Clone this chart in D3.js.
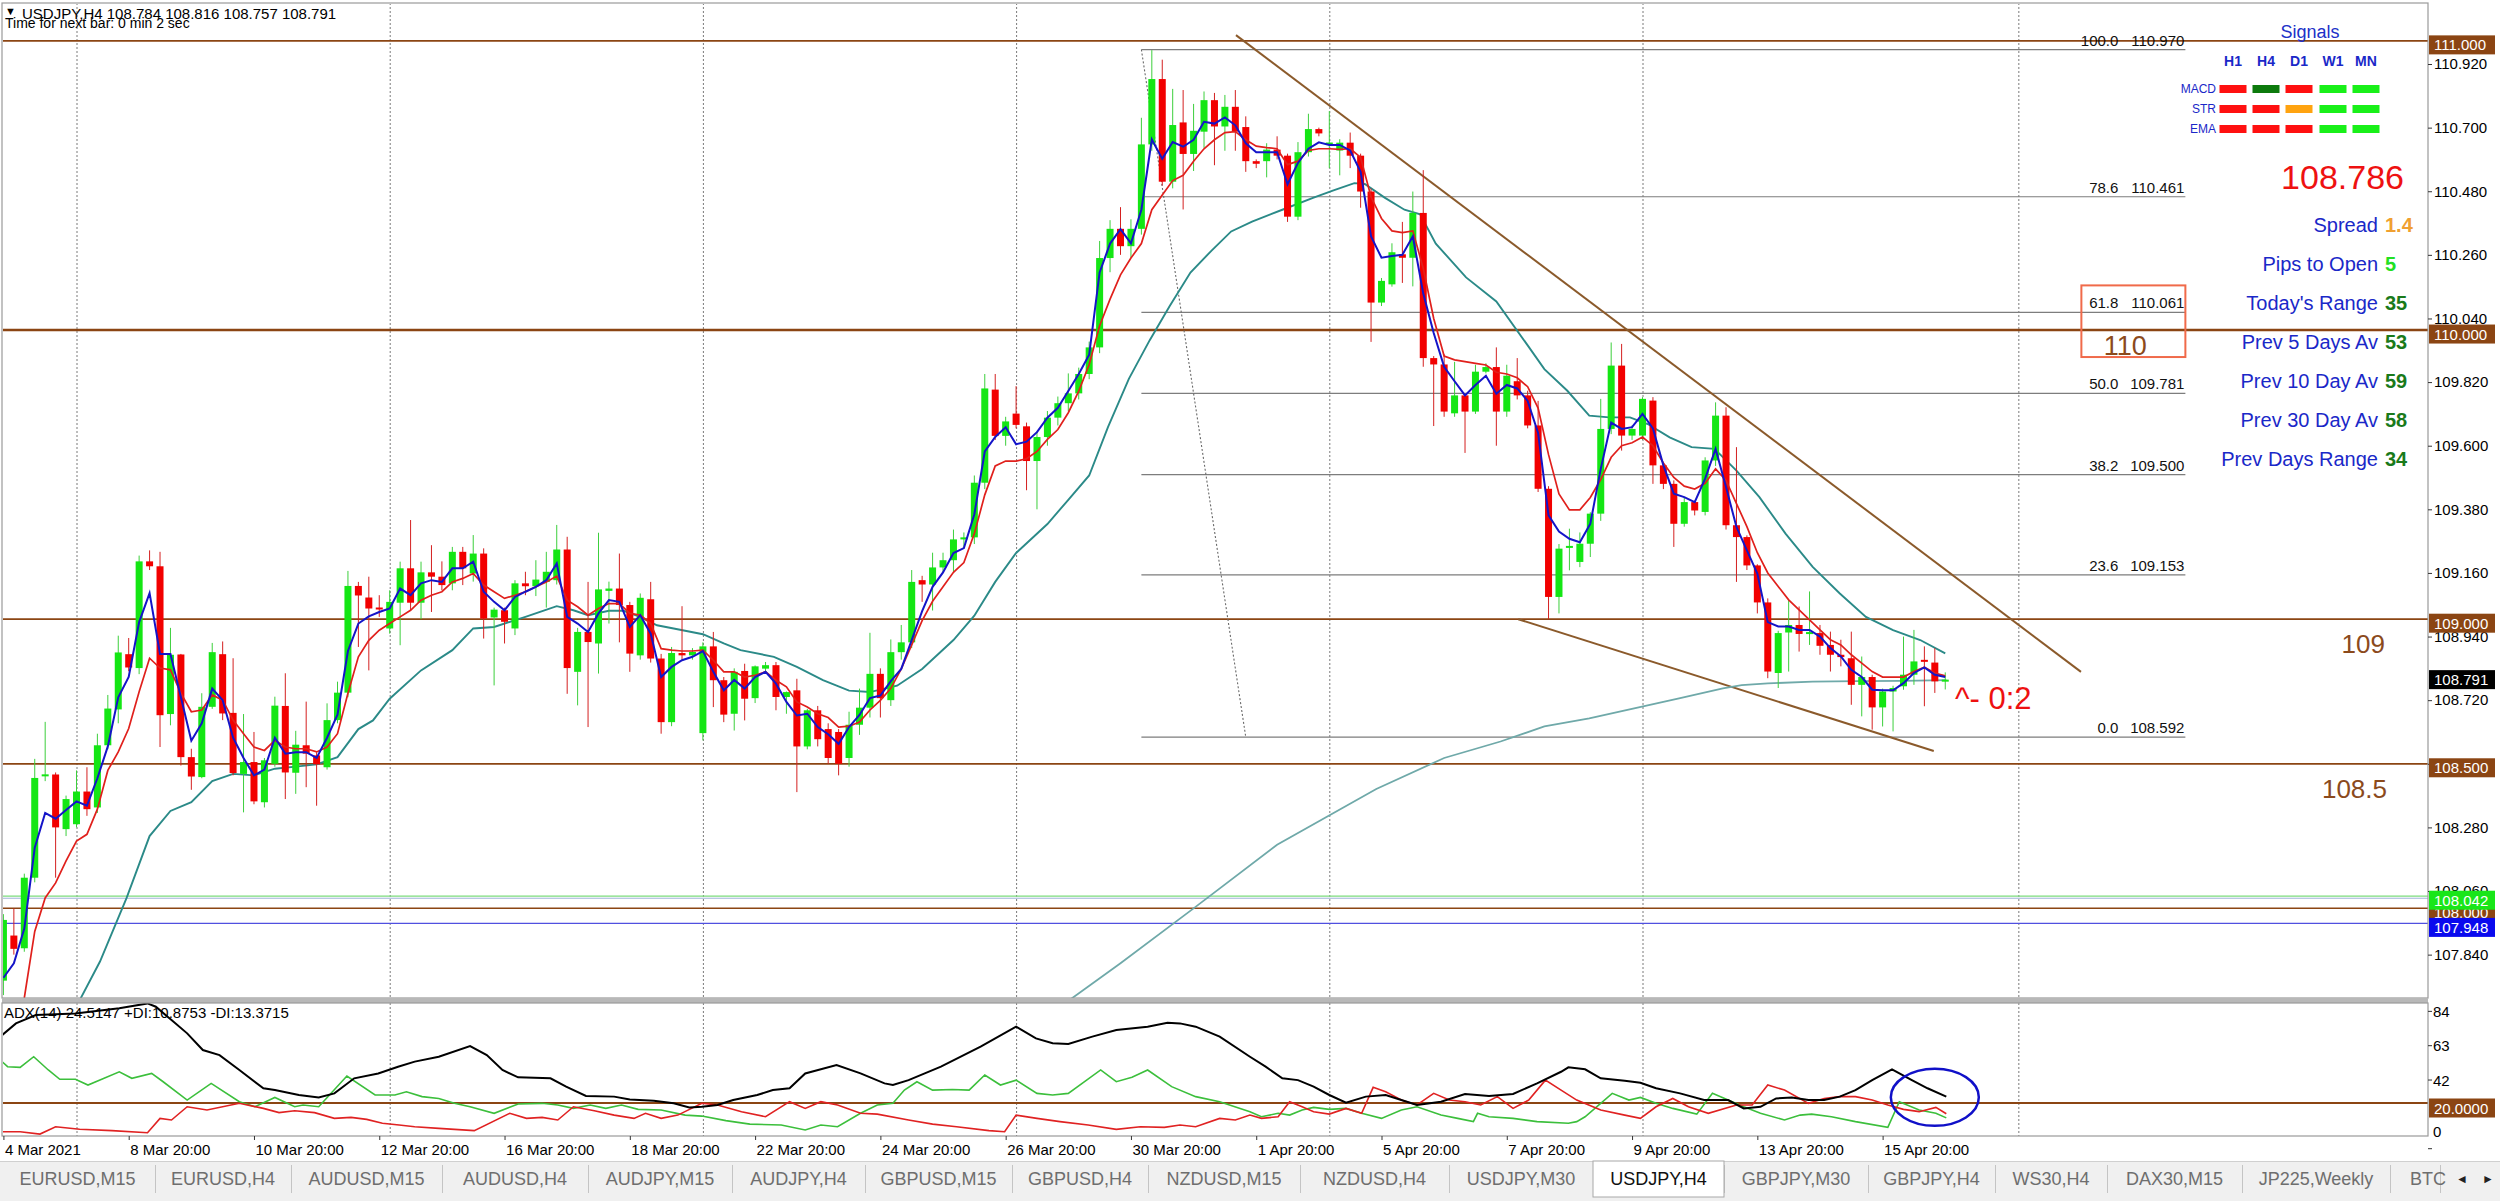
<!DOCTYPE html>
<html><head><meta charset="utf-8">
<script src="https://cdn.jsdelivr.net/npm/d3@7/dist/d3.min.js"></script>
<style>html,body{margin:0;padding:0;background:#fff;}svg{display:block;}</style>
</head><body>
<svg id="c" width="2500" height="1201"></svg>
<script>
// ---------------- DATA ----------------
const firstBar = -7; // bar index of first candle (bar 0 = 8 Mar 00:00, H4)
const opens = [
107.75,107.906,107.862,108.106,108.455,108.463,108.274,108.291,108.404,108.349,
108.564,108.688,108.879,108.831,109.200,109.183,108.672,108.878,108.523,108.454,
108.697,108.879,108.676,108.465,108.506,108.367,108.50,108.700,108.469,108.564,
108.529,108.488,108.651,108.746,109.115,109.075,109.037,108.968,109.057,109.176,
109.057,109.162,109.147,109.124,109.233,109.158,109.227,109.006,109.031,108.968,
109.124,109.114,109.129,109.135,109.241,108.818,108.956,108.916,109.098,109.106,
109.049,108.875,109.069,108.864,108.644,108.883,108.875,108.606,108.906,108.789,
108.673,108.821,108.727,108.829,108.841,108.731,108.754,108.560,108.685,108.62,
108.61,108.52,108.635,108.694,108.811,108.72,108.886,108.92,109.135,109.12,
109.179,109.204,109.276,109.283,109.472,109.794,109.634,109.711,109.667,109.547,
109.630,109.697,109.747,109.781,109.848,109.940,110.249,110.350,110.290,110.350,
110.642,110.868,110.513,110.718,110.609,110.686,110.795,110.704,110.772,110.702,
110.584,110.584,110.624,110.603,110.392,110.615,110.695,110.640,110.621,110.648,
110.603,110.479,110.095,110.158,110.262,110.250,110.405,109.903,109.881,109.712,
109.774,109.718,109.856,109.872,109.718,109.823,109.774,109.670,109.451,109.077,
109.245,109.198,109.261,109.365,109.658,109.877,109.635,109.635,109.756,109.532,
109.468,109.330,109.405,109.371,109.549,109.704,109.325,109.284,109.186,109.058,
108.814,108.954,108.980,108.949,108.952,108.911,108.877,108.865,108.773,108.800,
108.695,108.750,108.768,108.808,108.856,108.850,108.784];
const highs = [
107.98,108.00,108.12,108.517,108.645,108.47,108.39,108.477,108.488,108.604,
108.738,108.943,108.935,109.22,109.238,109.233,108.970,108.88,108.552,108.744,
108.918,108.923,108.865,108.672,108.61,108.52,108.732,108.813,108.614,108.715,
108.54,108.709,108.784,109.167,109.129,109.147,109.083,109.10,109.199,109.343,
109.199,109.256,109.20,109.25,109.25,109.291,109.245,109.04,109.04,109.135,
109.164,109.204,109.233,109.326,109.285,108.97,109.129,109.299,109.13,109.227,
109.06,109.089,109.129,108.88,108.904,109.045,108.90,108.92,108.956,108.80,
108.83,108.846,108.84,108.852,108.852,108.75,108.794,108.69,108.70,108.64,
108.62,108.68,108.76,108.953,108.83,108.93,108.98,109.17,109.15,109.23,
109.23,109.31,109.30,109.497,109.848,109.848,109.70,109.806,109.68,109.65,
109.72,109.77,109.85,109.87,109.96,110.308,110.38,110.425,110.383,110.734,
110.968,110.935,110.834,110.83,110.782,110.825,110.82,110.813,110.83,110.739,
110.59,110.646,110.67,110.61,110.65,110.748,110.70,110.757,110.66,110.683,
110.61,110.49,110.18,110.30,110.374,110.479,110.553,109.91,109.916,109.89,
109.78,109.88,109.885,109.94,109.88,109.903,109.79,109.755,109.46,109.26,
109.313,109.30,109.37,109.762,109.957,109.952,109.67,109.768,109.768,109.54,
109.48,109.42,109.41,109.56,109.750,109.733,109.595,109.29,109.19,109.072,
108.96,109.067,109.044,109.096,108.980,108.957,108.929,108.957,108.871,108.808,
108.76,108.77,108.940,108.963,108.906,108.900,108.816];
const lows = [
107.70,107.84,107.85,108.09,108.44,108.106,108.25,108.28,108.32,108.33,
108.55,108.64,108.82,108.81,109.17,108.558,108.633,108.494,108.41,108.45,
108.69,108.651,108.46,108.332,108.36,108.349,108.49,108.378,108.396,108.419,
108.355,108.48,108.64,108.73,108.904,108.823,109.008,108.95,108.91,109.03,
109.0,109.025,109.10,109.10,109.118,109.13,108.933,108.771,108.916,108.945,
109.083,109.08,109.04,109.12,108.742,108.702,108.627,108.812,108.985,108.92,
108.818,108.86,108.85,108.604,108.63,108.86,108.86,108.581,108.696,108.644,
108.615,108.65,108.71,108.82,108.685,108.673,108.402,108.55,108.56,108.50,
108.46,108.49,108.60,108.66,108.66,108.70,108.86,108.90,109.06,109.03,
109.16,109.16,109.25,109.26,109.45,109.62,109.60,109.66,109.446,109.38,
109.60,109.67,109.72,109.76,109.83,109.92,110.20,110.26,110.25,110.33,
110.62,110.50,110.49,110.417,110.55,110.63,110.57,110.62,110.62,110.547,
110.56,110.528,110.59,110.374,110.38,110.60,110.67,110.56,110.535,110.56,
110.423,109.959,110.083,110.15,110.163,110.151,109.873,109.668,109.70,109.70,
109.575,109.71,109.85,109.60,109.70,109.76,109.66,109.44,109.00,109.02,
109.169,109.18,109.215,109.34,109.64,109.583,109.62,109.62,109.468,109.45,
109.25,109.32,109.359,109.359,109.53,109.31,109.129,109.17,109.020,108.796,
108.762,108.819,108.888,108.911,108.877,108.819,108.837,108.704,108.664,108.618,
108.629,108.612,108.756,108.773,108.699,108.745,108.757];
const closes = [
107.96,107.860,108.106,108.451,108.46,108.280,108.378,108.404,108.343,108.564,
108.691,108.885,108.833,109.200,109.183,108.668,108.877,108.523,108.456,108.697,
108.886,108.674,108.468,108.506,108.370,108.512,108.701,108.470,108.566,108.535,
108.498,108.651,108.746,109.115,109.082,109.037,109.031,109.060,109.176,109.057,
109.162,109.147,109.118,109.233,109.176,109.227,109.002,109.033,108.991,109.124,
109.114,109.137,109.164,109.241,108.831,108.956,108.921,109.103,109.106,109.049,
108.881,109.074,108.864,108.644,108.883,108.875,108.887,108.906,108.789,108.670,
108.818,108.725,108.837,108.841,108.731,108.748,108.560,108.685,108.585,108.52,
108.50,108.635,108.694,108.811,108.727,108.886,108.92,109.129,109.12,109.179,
109.204,109.276,109.283,109.472,109.798,109.634,109.684,109.672,109.547,109.630,
109.697,109.747,109.781,109.848,109.940,110.249,110.350,110.290,110.350,110.642,
110.868,110.513,110.709,110.609,110.689,110.795,110.704,110.772,110.686,110.584,
110.575,110.624,110.603,110.392,110.615,110.695,110.680,110.645,110.648,110.603,
110.479,110.095,110.170,110.269,110.250,110.405,109.903,109.881,109.718,109.774,
109.718,109.856,109.872,109.718,109.842,109.774,109.670,109.451,109.077,109.244,
109.250,109.261,109.365,109.658,109.877,109.635,109.658,109.762,109.532,109.468,
109.330,109.405,109.376,109.549,109.704,109.325,109.284,109.186,109.058,108.819,
108.952,108.980,108.949,108.952,108.908,108.877,108.869,108.773,108.800,108.695,
108.750,108.762,108.808,108.854,108.852,108.785,108.791];

// fast MA (blue), bars -7..179
const blueStart = -7;
const blueMA = [
107.76,107.81,107.93,108.21,108.33,108.31,108.34,108.37,108.355,108.45,
108.56,108.73,108.80,108.99,109.09,108.88,108.88,108.73,108.58,108.64,
108.76,108.72,108.59,108.52,108.46,108.48,108.59,108.535,108.54,108.54,
108.52,108.59,108.67,108.89,108.985,109.01,109.025,109.037,109.106,109.083,
109.124,109.135,109.129,109.176,109.176,109.199,109.095,109.06,109.031,109.077,
109.095,109.112,109.135,109.193,109.008,108.985,108.956,109.02,109.066,109.06,
108.973,109.014,108.95,108.80,108.835,108.858,108.87,108.89,108.818,108.754,
108.79,108.76,108.80,108.818,108.777,108.714,108.667,108.673,108.627,108.602,
108.569,108.627,108.669,108.727,108.736,108.786,108.828,108.928,109.028,109.112,
109.162,109.229,109.246,109.363,109.58,109.63,109.664,109.605,109.614,109.647,
109.697,109.731,109.789,109.848,109.915,110.199,110.299,110.349,110.30,110.416,
110.659,110.592,110.650,110.634,110.658,110.72,110.714,110.735,110.708,110.646,
110.615,110.615,110.615,110.504,110.578,110.627,110.649,110.640,110.64,110.621,
110.547,110.324,110.25,110.256,110.26,110.324,110.126,109.99,109.873,109.823,
109.774,109.81,109.842,109.78,109.81,109.798,109.755,109.644,109.359,109.303,
109.278,109.266,109.33,109.52,109.68,109.658,109.664,109.71,109.66,109.532,
109.434,109.422,109.405,109.486,109.589,109.457,109.319,109.238,109.158,108.99,
108.975,108.975,108.963,108.963,108.94,108.90,108.871,108.825,108.80,108.756,
108.754,108.754,108.779,108.814,108.833,108.808,108.80];
// slower MA (red), bars -5..179
const redStart = -5;
const redMA = [
107.69,107.92,108.036,108.088,108.164,108.233,108.256,108.343,108.477,108.541,
108.622,108.749,108.865,108.831,108.825,108.744,108.68,108.686,108.738,108.72,
108.651,108.604,108.558,108.546,108.581,108.558,108.552,108.552,108.541,108.558,
108.604,108.744,108.87,108.927,108.962,108.985,109.008,109.031,109.066,109.083,
109.095,109.129,109.141,109.158,109.118,109.095,109.072,109.083,109.095,109.112,
109.129,109.149,109.066,109.043,109.014,109.037,109.054,109.054,109.02,109.014,
108.985,108.898,108.893,108.89,108.89,108.893,108.858,108.818,108.818,108.80,
108.806,108.818,108.789,108.766,108.714,108.696,108.673,108.66,108.627,108.63,
108.644,108.686,108.719,108.761,108.828,108.911,108.995,109.062,109.112,109.162,
109.196,109.296,109.43,109.53,109.547,109.547,109.555,109.58,109.622,109.656,
109.714,109.789,109.881,110.015,110.107,110.191,110.249,110.299,110.416,110.467,
110.517,110.535,110.584,110.627,110.658,110.683,110.686,110.658,110.636,110.631,
110.627,110.572,110.584,110.621,110.627,110.627,110.625,110.627,110.597,110.46,
110.386,110.343,110.337,110.343,110.213,110.04,109.91,109.897,109.891,109.885,
109.879,109.854,109.848,109.835,109.804,109.730,109.569,109.433,109.378,109.378,
109.421,109.483,109.56,109.60,109.61,109.63,109.60,109.54,109.49,109.46,
109.45,109.47,109.52,109.48,109.40,109.32,109.23,109.16,109.113,109.067,
109.032,108.998,108.963,108.929,108.911,108.877,108.848,108.819,108.80,108.80,
108.80,108.819,108.834,108.814,108.804];
// medium MA (teal): [bar, price]
const tealMA = [[0,107.66],[0.3,107.682],[2.25,107.816],[4.8,108.036],[7,108.25],[9,108.337],[11,108.367],[13,108.44],[15,108.465],[17,108.46],[19,108.483],[21,108.49],[23,108.498],[25,108.523],[27,108.62],[28.4,108.65],[30,108.725],[33,108.823],[36,108.893],[38,108.968],[40,108.973],[43,109.008],[44.4,109.025],[46,109.045],[47.6,109.031],[49,109.014],[51,109.029],[52.4,109.029],[54,109.008],[55.6,108.979],[57.2,108.968],[60,108.948],[62,108.916],[63.6,108.893],[66.8,108.87],[69,108.835],[71.5,108.789],[74,108.753],[76,108.748],[78.6,108.77],[81,108.828],[84,108.928],[86,109.012],[88,109.129],[90,109.229],[93,109.329],[95,109.413],[97,109.497],[98.8,109.664],[100.8,109.831],[102.8,109.965],[104.7,110.082],[106.7,110.199],[108.7,110.274],[110.6,110.341],[112.6,110.375],[115.5,110.416],[118.5,110.458],[120.4,110.483],[122.4,110.508],[123.4,110.505],[125.3,110.458],[127.2,110.416],[128.7,110.4],[130.2,110.299],[133.1,110.182],[136,110.099],[138.9,109.952],[140.6,109.865],[142.8,109.79],[144.9,109.704],[146.8,109.698],[148.8,109.698],[150.5,109.675],[152.6,109.629],[154.7,109.595],[156.9,109.589],[159,109.514],[161.2,109.422],[163.7,109.296],[166.3,109.181],[168.9,109.089],[171.4,109.008],[174,108.962],[176.6,108.928],[179,108.882]];
// long MA (200): [bar, price]
const longMA = [[94.5,107.66],[95,107.68],[100,107.81],[107,108.0],[115,108.22],[124.5,108.413],[131,108.52],[136.4,108.577],[140.6,108.629],[144.9,108.657],[149.2,108.692],[153.5,108.726],[157.7,108.761],[159.5,108.772],[162,108.778],[166.3,108.784],[170.6,108.786],[174.9,108.787],[179.1,108.789]];

// ADX(14) and DI lines: [bar, value]
const adxLine = [[-7.3,60.6],[-5.8,68.7],[-3.9,73.8],[-0.1,74.8],[4.1,77.9],[6.8,80.9],[7.6,78.9],[9.1,70.7],[10.6,62.6],[12.1,52.4],[13.7,49.3],[15.6,40.2],[17.9,29.0],[19.0,27.9],[21.3,24.9],[23.2,23.4],[24.7,25.9],[26.6,35.1],[28.9,38.1],[30.8,42.2],[32.4,45.3],[34.7,48.3],[37.7,54.8],[39.3,49.3],[40.8,40.2],[42.3,35.7],[45.4,35.1],[46.9,30.0],[48.8,24.3],[51.5,23.9],[53.0,22.2],[55.3,21.4],[57.2,19.8],[58.7,17.3],[59.9,17.7],[61.4,18.8],[62.9,21.8],[65.2,24.9],[66.7,27.9],[68.3,29.0],[69.8,38.1],[72.8,43.2],[75.1,38.1],[77.4,32.0],[78.2,31.0],[79.7,34.0],[82.8,42.2],[86.6,54.5],[90.0,66.7],[91.9,59.5],[93.5,56.5],[95.0,56.1],[97.3,60.6],[99.6,64.6],[102.6,66.7],[104.5,69.1],[105.7,68.7],[107.2,66.7],[109.5,60.6],[112.4,48.3],[113.9,42.2],[115.5,35.1],[117.0,34.0],[118.5,30.0],[120.0,24.9],[121.6,20.2],[123.5,23.9],[125.4,24.9],[126.9,21.8],[128.4,18.8],[130.7,20.8],[133.0,25.5],[135.3,24.3],[137.6,25.5],[139.9,32.0],[142.2,39.1],[142.9,41.8],[144.5,40.6],[146.0,35.1],[148.3,33.6],[149.8,32.4],[151.3,29.0],[153.6,25.9],[155.9,21.8],[158.2,21.8],[159.7,16.7],[161.3,17.7],[162.8,22.8],[164.3,23.4],[165.9,21.8],[167.4,21.8],[168.9,23.9],[170.4,27.9],[172.0,34.0],[173.9,40.6],[175.8,34.0],[177.3,29.0],[179.1,23.9]];
const plusDI = [[-7.3,46.3],[-6.6,42.2],[-5.4,41.8],[-4.1,48.3],[-2.7,40.2],[-1.6,34.5],[-0.1,34.5],[1.1,31.0],[4.1,39.1],[5.3,35.1],[7.2,38.1],[8.3,33.0],[10.6,21.8],[12.9,32.0],[15.6,20.8],[17.1,17.7],[19.0,23.4],[20.9,17.7],[21.7,18.8],[23.2,17.7],[25.9,36.5],[28.6,24.9],[30.5,24.9],[31.6,26.9],[33.1,23.9],[34.7,22.8],[36.2,19.8],[37.7,17.7],[40.0,13.7],[42.3,19.4],[44.6,19.8],[46.1,18.8],[47.6,16.7],[49.2,18.8],[50.7,16.7],[52.2,18.8],[53.8,16.1],[56.0,15.7],[58.3,12.6],[59.9,12.0],[62.2,9.2],[64.5,7.1],[67.5,6.5],[69.8,3.5],[71.3,6.5],[72.9,5.5],[75.1,13.7],[76.7,18.8],[78.2,19.8],[79.3,27.9],[80.5,33.0],[82.0,27.9],[83.9,28.3],[85.5,27.9],[87.0,37.1],[88.5,31.0],[90.0,34.0],[92.0,25.9],[93.5,24.9],[95.0,25.9],[98.1,40.2],[99.6,33.0],[101.1,35.7],[102.6,40.2],[104.9,30.0],[107.2,23.9],[109.5,20.8],[112.4,14.7],[113.5,11.6],[115.1,13.7],[116.2,12.6],[117.4,15.7],[118.5,17.3],[120.0,16.1],[121.6,16.7],[123.1,13.7],[125.0,10.6],[126.9,15.7],[128.4,17.7],[130.7,12.6],[132.3,10.6],[133.8,8.6],[134.2,13.7],[135.3,11.6],[137.6,10.6],[139.9,8.6],[142.9,7.6],[143.7,8.6],[144.5,11.6],[147.1,25.9],[148.7,21.8],[149.8,23.4],[151.3,19.8],[152.9,16.7],[155.2,13.2],[156.7,25.9],[158.2,21.8],[159.7,17.7],[161.3,13.7],[163.6,9.6],[165.1,12.6],[166.2,13.2],[168.1,11.6],[170.4,8.6],[173.5,5.1],[174.6,20.8],[176.5,15.7],[178.1,13.7],[179.1,10.9]];
const minusDI = [[-7.3,2.4],[-5.4,2.4],[-3.5,1.0],[-2.0,5.5],[0.3,3.9],[3.4,3.1],[6.8,1.8],[8.0,10.6],[9.1,9.6],[10.6,17.7],[12.5,15.7],[15.6,19.8],[17.9,16.7],[19.4,14.1],[20.9,15.3],[22.8,14.1],[24.7,10.6],[26.3,11.2],[27.8,10.0],[29.3,7.6],[30.9,6.5],[32.4,5.5],[34.7,4.5],[38.1,3.1],[41.5,13.7],[43.1,10.6],[44.6,11.2],[46.1,9.6],[47.6,17.7],[49.6,15.3],[51.5,12.6],[53.4,10.6],[54.5,13.7],[56.0,10.6],[57.6,12.6],[59.9,19.8],[61.4,18.8],[63.7,14.7],[66.0,11.6],[68.3,20.8],[69.8,16.7],[71.3,20.8],[72.9,18.8],[75.1,13.7],[76.7,13.2],[79.7,9.6],[82.0,7.1],[84.3,5.5],[87.4,3.1],[88.9,2.4],[90.0,12.6],[92.0,10.6],[94.2,8.6],[96.9,6.5],[99.6,3.9],[101.9,5.5],[104.2,5.1],[105.7,6.5],[107.2,5.5],[109.5,10.6],[111.0,9.6],[112.4,12.6],[113.5,10.6],[115.1,11.6],[116.2,20.8],[117.4,17.7],[118.5,14.7],[120.0,13.2],[121.6,16.7],[123.1,13.7],[124.2,29.6],[125.4,26.9],[126.9,21.8],[128.4,18.8],[130.0,25.9],[131.5,21.8],[133.0,20.8],[134.5,18.8],[136.1,23.9],[137.6,16.7],[139.1,21.8],[140.7,34.0],[142.2,27.9],[143.7,21.8],[146.0,15.7],[148.3,12.6],[149.8,10.6],[151.3,17.7],[152.9,22.8],[154.4,17.7],[156.3,13.7],[159.0,18.8],[160.5,18.8],[162.0,31.0],[163.6,27.9],[165.9,19.8],[167.4,22.8],[168.9,23.9],[170.4,23.9],[172.0,21.8],[173.5,18.8],[175.0,16.1],[176.5,14.7],[178.1,17.3],[179.1,13.4]];

// axes / labels
const priceTicks = [110.92,110.70,110.48,110.26,110.04,109.82,109.60,109.38,109.16,108.94,108.72,108.50,108.28,108.06,107.84];
const dateTickBars = [-7,5,17,29,41,53,65,77,89,101,113,125,137,149,161,173];
const dateTickLabels = ["4 Mar 2021","8 Mar 20:00","10 Mar 20:00","12 Mar 20:00","16 Mar 20:00","18 Mar 20:00","22 Mar 20:00","24 Mar 20:00","26 Mar 20:00","30 Mar 20:00","1 Apr 20:00","5 Apr 20:00","7 Apr 20:00","9 Apr 20:00","13 Apr 20:00","15 Apr 20:00"];
const gridBars = [0,30,60,90,120,150,186];
const adxTicks = [84,63,42,0];
const brownLevels = [111.000,110.000,109.000,108.500];
const fibNames = ["100.0","78.6","61.8","50.0","38.2","23.6","0.0"];
const fibPrices = [110.970,110.461,110.061,109.781,109.500,109.153,108.592];
const fibFrom = [102,110.970], fibTo = [112,108.592];
const trendUpper = [[111.06,111.02],[192,108.818]];
const trendLower = [[138.1,109.0],[177.9,108.544]];
const signalTFs = ["H1","H4","D1","W1","MN"];
const signalRows = ["MACD","STR","EMA"];
const signalStates = [["sell","buyWeak","sell","buy","buy"],["sell","sell","neutral","buy","buy"],["sell","sell","sell","buy","buy"]];
const infoLabels = ["Spread","Pips to Open","Today's Range","Prev 5 Days Av","Prev 10 Day Av","Prev 30 Day Av","Prev Days Range"];
const infoValues = ["1.4","5","35","53","59","58","34"];
const tabNames = ["EURUSD,M15","EURUSD,H4","AUDUSD,M15","AUDUSD,H4","AUDJPY,M15","AUDJPY,H4","GBPUSD,M15","GBPUSD,H4","NZDUSD,M15","NZDUSD,H4","USDJPY,M30","USDJPY,H4","GBPJPY,M30","GBPJPY,H4","WS30,H4","DAX30,M15","JP225,Weekly","BTC"];
const activeTab = "USDJPY,H4";

// ---------------- LAYOUT ----------------
const W = 2500, H = 1201;
const plotL = 2, plotR = 2428, mainT = 3, mainB = 998, adxT = 1003, adxB = 1136;
const FONT = "'Liberation Sans', Arial, sans-serif";
const tabEdges = [0,155,291,442,588,732,865,1012,1148,1300,1449,1593,1724,1868,1995,2107,2242,2390,2440];

const x = d3.scaleLinear().domain([0,150]).range([76.5,1642.5]);
const y = d3.scaleLinear().domain([107.69,111.131]).range([mainB,mainT]);
const ya = d3.scaleLinear().domain([0,83]).range([1135.7,1000]);

const svg = d3.select("#c").attr("font-family", FONT);
svg.append("rect").attr("width",W).attr("height",H).attr("fill","#fff");
const defs = svg.append("defs");
defs.append("clipPath").attr("id","cm").append("rect").attr("x",plotL+1).attr("y",mainT+1).attr("width",plotR-plotL-1).attr("height",mainB-mainT-1);
defs.append("clipPath").attr("id","ca").append("rect").attr("x",plotL+1).attr("y",adxT).attr("width",plotR-plotL-1).attr("height",adxB-adxT);

const main = svg.append("g").attr("clip-path","url(#cm)");
const adx = svg.append("g").attr("clip-path","url(#ca)");

// grid
[main, adx].forEach((g,k)=>{
  g.selectAll("line.grid").data(gridBars).join("line").attr("class","grid")
    .attr("x1",d=>x(d)+0.5).attr("x2",d=>x(d)+0.5)
    .attr("y1",k?adxT:mainT).attr("y2",k?adxB:mainB)
    .attr("stroke","#7a7a7a").attr("stroke-width",1).attr("stroke-dasharray","2,2");
});

// extra horizontal lines
const extraLines = [{v:108.042,c:"#7cdc7c",w:1.2},{v:108.035,c:"#9fb4d8",w:1},{v:108.000,c:"#8b4513",w:1.5},{v:107.948,c:"#5050e0",w:1.2}];
main.selectAll("line.ex").data(extraLines).join("line").attr("class","ex")
  .attr("x1",plotL).attr("x2",plotR).attr("y1",d=>y(d.v)).attr("y2",d=>y(d.v))
  .attr("stroke",d=>d.c).attr("stroke-width",d=>d.w);

// brown level lines
main.selectAll("line.lvl").data(brownLevels).join("line").attr("class","lvl")
  .attr("x1",plotL).attr("x2",plotR).attr("y1",d=>y(d)).attr("y2",d=>y(d))
  .attr("stroke","#8b4513").attr("stroke-width",d=>d===110?2.4:1.8);

// fibonacci
const fibR = 202;
main.selectAll("line.fib").data(fibPrices).join("line").attr("class","fib")
  .attr("x1",x(fibFrom[0])).attr("x2",x(fibR)).attr("y1",d=>y(d)).attr("y2",d=>y(d))
  .attr("stroke","#7d7d7d").attr("stroke-width",1.2);
main.append("line").attr("x1",x(fibFrom[0])).attr("y1",y(fibFrom[1])).attr("x2",x(fibTo[0])).attr("y2",y(fibTo[1]))
  .attr("stroke","#6a6a6a").attr("stroke-width",1.1).attr("stroke-dasharray","2,2");
main.selectAll("text.fibn").data(fibPrices).join("text").attr("class","fibn")
  .attr("x",x(fibR)-67).attr("y",d=>y(d)-4).attr("text-anchor","end").attr("font-size",15).attr("fill","#111")
  .text((d,i)=>fibNames[i]);
main.selectAll("text.fibp").data(fibPrices).join("text").attr("class","fibp")
  .attr("x",x(fibR)-1).attr("y",d=>y(d)-4).attr("text-anchor","end").attr("font-size",15).attr("fill","#111")
  .text(d=>d3.format(".3f")(d));

// trend lines
[trendUpper, trendLower].forEach(t=>{
  main.append("line").attr("x1",x(t[0][0])).attr("y1",y(t[0][1])).attr("x2",x(t[1][0])).attr("y2",y(t[1][1]))
    .attr("stroke","#8b5a2b").attr("stroke-width",2);
});

// long MA & teal
const lineGen = d3.line().x(d=>x(d[0])).y(d=>y(d[1]));
main.append("path").datum(longMA).attr("d",lineGen).attr("fill","none").attr("stroke","#6fa9a9").attr("stroke-width",1.8);
main.append("path").datum(tealMA).attr("d",lineGen).attr("fill","none").attr("stroke","#2b8a88").attr("stroke-width",1.9);

// candles
const bars = opens.map((o,k)=>({i:k+firstBar,o,h:highs[k],l:lows[k],c:closes[k]}));
const GREEN = "#14e614", RED = "#f20000";
const cg = main.append("g");
cg.selectAll("line.wick").data(bars).join("line").attr("class","wick")
  .attr("x1",d=>x(d.i)).attr("x2",d=>x(d.i)).attr("y1",d=>y(d.h)).attr("y2",d=>y(d.l))
  .attr("stroke",d=>d.c>=d.o?"#3ccf3c":"#d42020").attr("stroke-width",1);
cg.selectAll("rect.body").data(bars).join("rect").attr("class","body")
  .attr("x",d=>x(d.i)-3.5).attr("width",7)
  .attr("y",d=>Math.min(y(d.o),y(d.c))-(Math.abs(y(d.o)-y(d.c))<2?1:0))
  .attr("height",d=>Math.max(2,Math.abs(y(d.o)-y(d.c))))
  .attr("fill",d=>d.c>=d.o?GREEN:RED);

// red & blue MAs
const redPts = redMA.map((v,k)=>[k+redStart,v]);
const bluePts = blueMA.map((v,k)=>[k+blueStart,v]);
main.append("path").datum(redPts).attr("d",lineGen).attr("fill","none").attr("stroke","#e0201c").attr("stroke-width",1.7);
main.append("path").datum(bluePts).attr("d",lineGen).attr("fill","none").attr("stroke","#1414c8").attr("stroke-width",2);

// annotations
const fibBoxY1 = y(110.061)-27, fibBoxY2 = y(110.0)+27;
main.append("rect").attr("x",x(fibR)-104).attr("y",fibBoxY1).attr("width",104).attr("height",fibBoxY2-fibBoxY1)
  .attr("fill","none").attr("stroke","#f06a4a").attr("stroke-width",2);
main.append("text").attr("x",x(fibR)-60).attr("y",y(110)+25).attr("text-anchor","middle").attr("font-size",27).attr("fill","#8b4a1c").text("110");
main.append("text").attr("x",2385).attr("y",y(109)+34).attr("text-anchor","end").attr("font-size",26).attr("fill","#8b4a1c").text("109");
main.append("text").attr("x",2387).attr("y",y(108.5)+34).attr("text-anchor","end").attr("font-size",26).attr("fill","#8b4a1c").text("108.5");
main.append("text").attr("x",1955).attr("y",y(108.791)+29).attr("font-size",31).attr("fill","#ee1111").text("^- 0:2");

// signals panel
main.append("text").attr("x",2310).attr("y",32).attr("text-anchor","middle").attr("dominant-baseline","central").attr("font-size",18).attr("fill","#2030c8").text("Signals");
const sigX = [2233,2266,2299,2333,2366];
main.selectAll("text.tf").data(signalTFs).join("text").attr("class","tf")
  .attr("x",(d,i)=>sigX[i]).attr("y",61).attr("text-anchor","middle").attr("dominant-baseline","central")
  .attr("font-size",14).attr("font-weight","bold").attr("fill","#1a28c8").text(d=>d);
const sigColor = {sell:"#ff1010", buy:"#19f019", buyWeak:"#0d7a0d", neutral:"#ffa310"};
signalRows.forEach((r,ri)=>{
  const yy = 89+ri*20;
  main.append("text").attr("x",2216).attr("y",yy).attr("text-anchor","end").attr("dominant-baseline","central")
    .attr("font-size",12).attr("fill","#1a28c8").text(r);
  main.selectAll("rect.sig"+ri).data(signalStates[ri]).join("rect").attr("class","sig"+ri)
    .attr("x",(d,i)=>sigX[i]-13.5).attr("y",yy-4).attr("width",27).attr("height",8).attr("fill",d=>sigColor[d]);
});
main.append("text").attr("x",2404).attr("y",189).attr("text-anchor","end").attr("font-size",34).attr("fill","#ee1111").text("108.786");
const infoColors = ["#f0a030","#22e022","#1a7a1a","#1a7a1a","#1a7a1a","#1a7a1a","#1a7a1a"];
main.selectAll("text.il").data(infoLabels).join("text").attr("class","il")
  .attr("x",2378).attr("y",(d,i)=>232+i*39).attr("text-anchor","end").attr("font-size",20).attr("fill","#1a28c8").text(d=>d);
main.selectAll("text.iv").data(infoValues).join("text").attr("class","iv")
  .attr("x",2385).attr("y",(d,i)=>232+i*39).attr("font-size",20).attr("font-weight","bold").attr("fill",(d,i)=>infoColors[i]).text(d=>d);

// header
svg.append("text").attr("x",5).attr("y",15).attr("font-size",11).attr("fill","#000").text("\u25BC");
svg.append("text").attr("x",22).attr("y",19).attr("font-size",15).attr("fill","#000").text("USDJPY,H4  108.784 108.816 108.757 108.791");
svg.append("text").attr("x",5).attr("y",28).attr("font-size",14).attr("fill","#000").text("Time for next bar: 0 min 2 sec");

// ADX panel
adx.append("line").attr("x1",plotL).attr("x2",plotR).attr("y1",ya(20)).attr("y2",ya(20)).attr("stroke","#8b4513").attr("stroke-width",1.8);
const adxGen = d3.line().x(d=>x(d[0])).y(d=>ya(d[1]));
adx.append("path").datum(plusDI).attr("d",adxGen).attr("fill","none").attr("stroke","#3cbf3c").attr("stroke-width",1.6);
adx.append("path").datum(minusDI).attr("d",adxGen).attr("fill","none").attr("stroke","#e02222").attr("stroke-width",1.6);
adx.append("path").datum(adxLine).attr("d",adxGen).attr("fill","none").attr("stroke","#000").attr("stroke-width",2);
adx.append("ellipse").attr("cx",x(178)).attr("cy",ya(23.5)).attr("rx",44).attr("ry",28.5).attr("fill","none").attr("stroke","#1010c8").attr("stroke-width",2.5);
svg.append("text").attr("x",4).attr("y",1018).attr("font-size",15).attr("fill","#000").text("ADX(14) 24.5147 +DI:10.8753 -DI:13.3715");

// panel borders
svg.append("rect").attr("x",plotL).attr("y",mainT).attr("width",plotR-plotL).attr("height",mainB-mainT).attr("fill","none").attr("stroke","#9a9a9a").attr("stroke-width",1.2);
svg.append("rect").attr("x",plotL).attr("y",mainB).attr("width",plotR-plotL).attr("height",adxT-mainB).attr("fill","#b8b8b8");
svg.append("rect").attr("x",plotL).attr("y",adxT).attr("width",plotR-plotL).attr("height",adxB-adxT).attr("fill","none").attr("stroke","#9a9a9a").attr("stroke-width",1.2);

// right price axis
const ga = svg.append("g").attr("transform",`translate(${plotR},0)`)
  .call(d3.axisRight(y).tickValues(priceTicks).tickFormat(d3.format(".3f")).tickSize(4).tickPadding(2));
ga.select(".domain").remove();
ga.attr("font-size",15).attr("font-family",FONT);
ga.selectAll("line").attr("stroke","#333");
ga.selectAll("text").attr("fill","#000");

// level boxes
function levelBox(v, fill, txt, dy){
  const yy = y(v)+dy;
  svg.append("rect").attr("x",plotR+1).attr("y",yy-9.5).attr("width",66).attr("height",19).attr("fill",fill);
  svg.append("text").attr("x",plotR+6).attr("y",yy).attr("dominant-baseline","central").attr("font-size",15).attr("fill","#fff").text(txt);
}
brownLevels.forEach(v=>levelBox(v,"#8b4513",d3.format(".3f")(v),4));
levelBox(108.000,"#8b4513","108.000",4);
levelBox(108.042,"#19e619","108.042",4);
levelBox(107.948,"#0a0aee","107.948",4);
levelBox(108.791,"#000000","108.791",0);

// ADX axis
svg.selectAll("line.at").data(adxTicks).join("line").attr("class","at")
  .attr("x1",plotR).attr("x2",plotR+4).attr("y1",d=>ya(d)+13).attr("y2",d=>ya(d)+13).attr("stroke","#333");
svg.selectAll("text.at").data(adxTicks).join("text").attr("class","at")
  .attr("x",plotR+5).attr("y",d=>d===0?1131:ya(d)+13).attr("dominant-baseline","central").attr("font-size",15).attr("fill","#000").text(d=>d);
svg.append("rect").attr("x",plotR+1).attr("y",ya(20)+5-9.5).attr("width",66).attr("height",19).attr("fill","#8b4513");
svg.append("text").attr("x",plotR+6).attr("y",ya(20)+5).attr("dominant-baseline","central").attr("font-size",15).attr("fill","#fff").text("20.0000");

// time axis
const gt = svg.append("g").attr("transform",`translate(0,${adxB})`)
  .call(d3.axisBottom(x).tickValues(dateTickBars).tickFormat((d,i)=>dateTickLabels[i]).tickSize(4).tickPadding(4));
gt.select(".domain").remove();
gt.attr("font-size",15).attr("font-family",FONT);
gt.selectAll("line").attr("stroke","#333");
gt.selectAll("text").attr("text-anchor","start").attr("dx",1).attr("fill","#000");

// tabs
svg.append("rect").attr("x",0).attr("y",1161).attr("width",W).attr("height",40).attr("fill","#f0f0f0");
svg.append("line").attr("x1",0).attr("x2",W).attr("y1",1161.5).attr("y2",1161.5).attr("stroke","#d0d0d0");
const tabs = tabNames.map((n,i)=>({n, a:tabEdges[i], b:tabEdges[i+1]}));
svg.selectAll("line.tabsep").data(tabs).join("line").attr("class","tabsep")
  .attr("x1",d=>d.b+0.5).attr("x2",d=>d.b+0.5).attr("y1",1165).attr("y2",1193).attr("stroke","#c4c4c4");
const act = tabs.find(t=>t.n===activeTab);
svg.append("rect").attr("x",act.a).attr("y",1161).attr("width",act.b-act.a).attr("height",36).attr("fill","#fff").attr("stroke","#a8a8a8");
svg.selectAll("text.tab").data(tabs).join("text").attr("class","tab")
  .attr("x",d=>d.n==="BTC"?d.a+20:(d.a+d.b)/2).attr("y",1179).attr("text-anchor",d=>d.n==="BTC"?"start":"middle")
  .attr("dominant-baseline","central").attr("font-size",18).attr("fill",d=>d.n===activeTab?"#111":"#6e6e6e").text(d=>d.n);
svg.append("text").attr("x",2462).attr("y",1179).attr("text-anchor","middle").attr("dominant-baseline","central").attr("font-size",12).attr("fill","#222").text("\u25C4");
svg.append("text").attr("x",2488).attr("y",1179).attr("text-anchor","middle").attr("dominant-baseline","central").attr("font-size",12).attr("fill","#222").text("\u25BA");
</script>
</body></html>
